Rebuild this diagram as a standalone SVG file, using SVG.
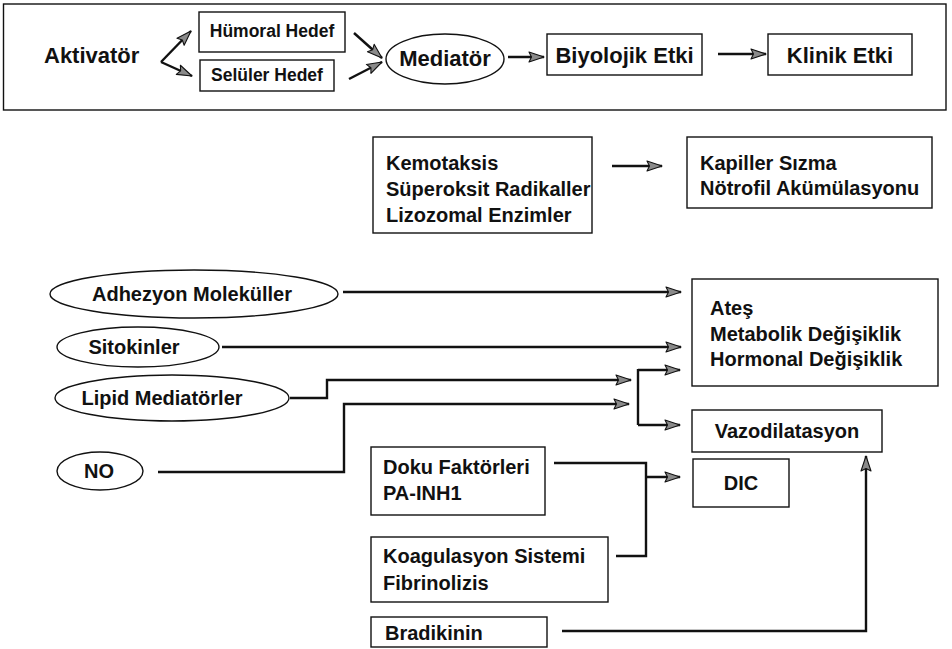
<svg xmlns="http://www.w3.org/2000/svg" width="952" height="649" viewBox="0 0 952 649">
<style>
text{font-family:"Liberation Sans",Arial,Helvetica,sans-serif;font-weight:bold;fill:#111}
.t22{font-size:22px}.t17{font-size:17.5px}.t20{font-size:20px}
.box{fill:none;stroke:#111;stroke-width:1.4}
.ln{fill:none;stroke:#111;stroke-width:2.4}
.lna{fill:none;stroke:#111;stroke-width:2.4;marker-end:url(#ah)}
</style>
<defs>
<marker id="ah" markerUnits="userSpaceOnUse" markerWidth="18" markerHeight="14" refX="16" refY="6" orient="auto">
<path d="M1,1 L16,6 L1,11 L3.5,6 z" fill="#8a8a8a" stroke="#111" stroke-width="1.1" stroke-linejoin="round"/>
</marker>
</defs>
<rect width="952" height="649" fill="#fff"/>

<g id="top-frame"><rect class="box" x="3.5" y="4" width="942.5" height="106"/></g>

<g id="aktivator"><text class="t22" x="44" y="63">Aktivatör</text></g>
<g id="humoral"><rect class="box" x="199" y="12" width="146" height="40"/><text class="t17" x="272" y="37" text-anchor="middle">Hümoral Hedef</text></g>
<g id="seluler"><rect class="box" x="200" y="60" width="134" height="31"/><text class="t17" x="267" y="81" text-anchor="middle">Selüler Hedef</text></g>
<g id="mediator"><ellipse class="box" cx="445" cy="59" rx="59" ry="25"/><text class="t22" x="445" y="66" text-anchor="middle">Mediatör</text></g>
<g id="biyolojik"><rect class="box" x="547" y="34" width="155" height="41"/><text class="t22" x="624.5" y="63" text-anchor="middle">Biyolojik Etki</text></g>
<g id="klinik"><rect class="box" x="768" y="34" width="144" height="41"/><text class="t22" x="840" y="63" text-anchor="middle">Klinik Etki</text></g>

<g id="kemotaksis"><rect class="box" x="373" y="137" width="219" height="96"/>
<text class="t20" x="386" y="170">Kemotaksis</text>
<text class="t20" x="386" y="196">Süperoksit Radikaller</text>
<text class="t20" x="386" y="222">Lizozomal Enzimler</text></g>
<g id="kapiller"><rect class="box" x="687" y="137" width="245" height="71"/>
<text class="t20" x="700" y="170">Kapiller Sızma</text>
<text class="t20" x="700" y="195">Nötrofil Akümülasyonu</text></g>

<g id="adhezyon"><ellipse class="box" cx="194" cy="294" rx="144" ry="24"/><text class="t20" x="192" y="301" text-anchor="middle">Adhezyon Moleküller</text></g>
<g id="sitokinler"><ellipse class="box" cx="138" cy="347" rx="81" ry="20"/><text class="t20" x="134" y="354" text-anchor="middle">Sitokinler</text></g>
<g id="lipid"><ellipse class="box" cx="172" cy="398" rx="117" ry="23"/><text class="t20" x="162" y="405" text-anchor="middle">Lipid Mediatörler</text></g>
<g id="no"><ellipse class="box" cx="100" cy="471" rx="43" ry="19"/><text class="t20" x="99" y="478" text-anchor="middle">NO</text></g>

<g id="ates"><rect class="box" x="692" y="279" width="246" height="107"/>
<text class="t20" x="710" y="315">Ateş</text>
<text class="t20" x="710" y="341">Metabolik Değişiklik</text>
<text class="t20" x="710" y="366">Hormonal Değişiklik</text></g>
<g id="vazodilatasyon"><rect class="box" x="692" y="410" width="190" height="42"/><text class="t20" x="787" y="438" text-anchor="middle">Vazodilatasyon</text></g>
<g id="dic"><rect class="box" x="693" y="459" width="96" height="48"/><text class="t20" x="741" y="490" text-anchor="middle">DIC</text></g>

<g id="doku"><rect class="box" x="371" y="447" width="174" height="68"/>
<text class="t20" x="383" y="474">Doku Faktörleri</text>
<text class="t20" x="383" y="500">PA-INH1</text></g>
<g id="koagulasyon"><rect class="box" x="371" y="537" width="237" height="65"/>
<text class="t20" x="383" y="563">Koagulasyon Sistemi</text>
<text class="t20" x="383" y="590">Fibrinolizis</text></g>
<g id="bradikinin"><rect class="box" x="371" y="617" width="176" height="30"/>
<text class="t20" x="385" y="640">Bradikinin</text></g>

<g id="connectors">
<path class="lna" d="M161,62 L191,31"/>
<path class="lna" d="M161,62 L192,76"/>
<path class="lna" d="M354,33 L382,58"/>
<path class="lna" d="M349,79 L382,62"/>
<path class="lna" d="M508,57 L544,57"/>
<path class="lna" d="M718,54 L766,54"/>
<path class="lna" d="M612,166 L662,166"/>
<path class="lna" d="M343,292 L681,292"/>
<path class="lna" d="M222,347 L681,347"/>
<path class="lna" d="M290,398 L327,398 L327,380 L631,380"/>
<path class="lna" d="M158,472 L344,472 L344,404 L629,404"/>
<path class="lna" d="M638,370 L680,370"/>
<path class="ln" d="M638,369 L638,425"/>
<path class="lna" d="M638,425 L680,425"/>
<path class="ln" d="M554,463 L646,463 L646,556 L616,556"/>
<path class="lna" d="M646,477 L680,477"/>
<path class="lna" d="M562,631 L866,631 L866,456"/>
</g>
</svg>
